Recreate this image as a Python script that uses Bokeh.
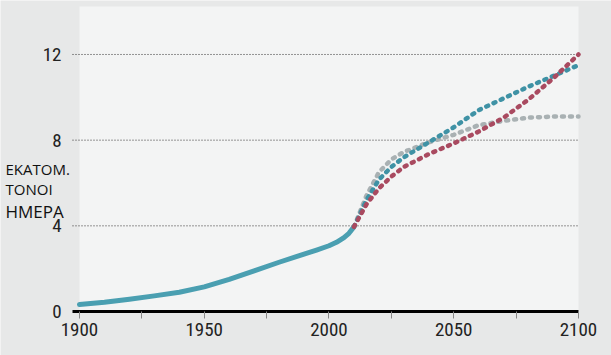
from bokeh.plotting import figure
from bokeh.models import FixedTicker, Label, Range1d
from bokeh.embed import file_html
from bokeh.resources import INLINE

# ---- data ----
hist_years = [1900, 1910, 1920, 1930, 1940, 1950, 1960, 1970, 1980, 1990, 1995, 2000, 2003, 2006, 2008, 2010]
hist_vals = [0.33, 0.43, 0.57, 0.73, 0.9, 1.15, 1.5, 1.9, 2.3, 2.68, 2.87, 3.07, 3.23, 3.45, 3.65, 3.95]

proj_years = [2010, 2015, 2020, 2025, 2030, 2040, 2050, 2060, 2070, 2080, 2090, 2100]
proj_red = [3.95, 5.0, 5.75, 6.3, 6.75, 7.35, 7.85, 8.4, 9.05, 9.9, 10.9, 12.0]
proj_teal = [3.95, 5.2, 6.15, 6.75, 7.2, 7.9, 8.6, 9.4, 9.95, 10.5, 11.0, 11.5]
proj_gray = [3.95, 5.4, 6.5, 7.1, 7.45, 7.9, 8.25, 8.7, 8.9, 9.05, 9.1, 9.1]

x_major = [1900, 1950, 2000, 2050, 2100]
x_minor = [1925, 1975, 2025, 2075]
y_ticks = [0, 4, 8, 12]
label_lines = ["ΕΚΑΤΟΜ.", "ΤΟΝΟΙ", "ΗΜΕΡΑ"]

OUTER = "#e7e8e8"
INNER = "#f3f4f4"
TICK_FONT = "Liberation Sans Narrow, Roboto Condensed, Arial Narrow, sans-serif"

# view extents (the frame fills the whole canvas)
X_START, X_END = 1868.34, 2113.23
Y_START, Y_END = -2.054, 14.52
AXIS_X = 1897.2     # where the y axis / gridlines / x axis line start
PANEL_TOP = 14.24

p = figure(width=611, height=355, output_backend="svg", toolbar_location=None,
           x_range=Range1d(X_START, X_END), y_range=Range1d(Y_START, Y_END),
           min_border_left=0, min_border_right=0, min_border_top=0, min_border_bottom=0)
p.background_fill_color = OUTER
p.border_fill_color = OUTER
p.outline_line_color = None

# light plot panel
bg = p.quad(left=[x_major[0]], right=[x_major[-1]], bottom=[y_ticks[0]], top=[PANEL_TOP],
            fill_color=INNER, line_color=None)
bg.level = "image"

# gridlines (from the y-axis position to the right edge)
p.xgrid.grid_line_color = None
p.ygrid.grid_line_color = None
gl = p.segment(x0=[AXIS_X] * 3, x1=[x_major[-1]] * 3, y0=y_ticks[1:], y1=y_ticks[1:],
               line_color="#333333", line_dash="1 2", line_width=1)
gl.level = "underlay"

# axes
p.xaxis.fixed_location = 0
p.xaxis.ticker = FixedTicker(ticks=x_major, minor_ticks=x_minor)
p.xaxis.bounds = (AXIS_X, x_major[-1])
p.xaxis.axis_line_color = "black"
p.xaxis.axis_line_width = 3
p.xaxis.major_tick_in = 0
p.xaxis.major_tick_out = 7
p.xaxis.minor_tick_in = 0
p.xaxis.minor_tick_out = 7
p.xaxis.major_tick_line_color = "#888888"
p.xaxis.minor_tick_line_color = "#888888"
p.xaxis.major_label_text_font = TICK_FONT
p.xaxis.major_label_text_font_size = "19px"
p.xaxis.major_label_text_color = "#222222"
p.xaxis.major_label_standoff = 4

p.yaxis.fixed_location = AXIS_X
p.yaxis.ticker = FixedTicker(ticks=y_ticks)
p.yaxis.axis_line_color = None
p.yaxis.major_tick_line_color = None
p.yaxis.minor_tick_line_color = None
p.yaxis.major_label_text_font = TICK_FONT
p.yaxis.major_label_text_font_size = "19px"
p.yaxis.major_label_text_color = "#222222"
p.yaxis.major_label_standoff = 5

# historic
p.line(hist_years, hist_vals, line_color="#4a9fb1", line_width=5, line_cap="round",
       line_join="round")

# projections
for vals, col in [(proj_gray, "#a9b1b3"), (proj_teal, "#3f92a5"), (proj_red, "#a94a60")]:
    p.line(proj_years, vals, line_color=col, line_width=4.5, line_cap="round",
           line_join="round", line_dash="2 6")

# axis title lines (canvas pixels)
sizes = ["15px", "15px", "17px"]
baselines = [168, 188.5, 211]
for txt, sz, bl in zip(label_lines, sizes, baselines):
    p.add_layout(Label(x=5, y=bl, x_units="canvas", y_units="canvas", text=txt,
                       text_font="Open Sans", text_font_size=sz, text_color="#111111",
                       text_baseline="alphabetic"))

open("out.html", "w").write(file_html(p, INLINE))
